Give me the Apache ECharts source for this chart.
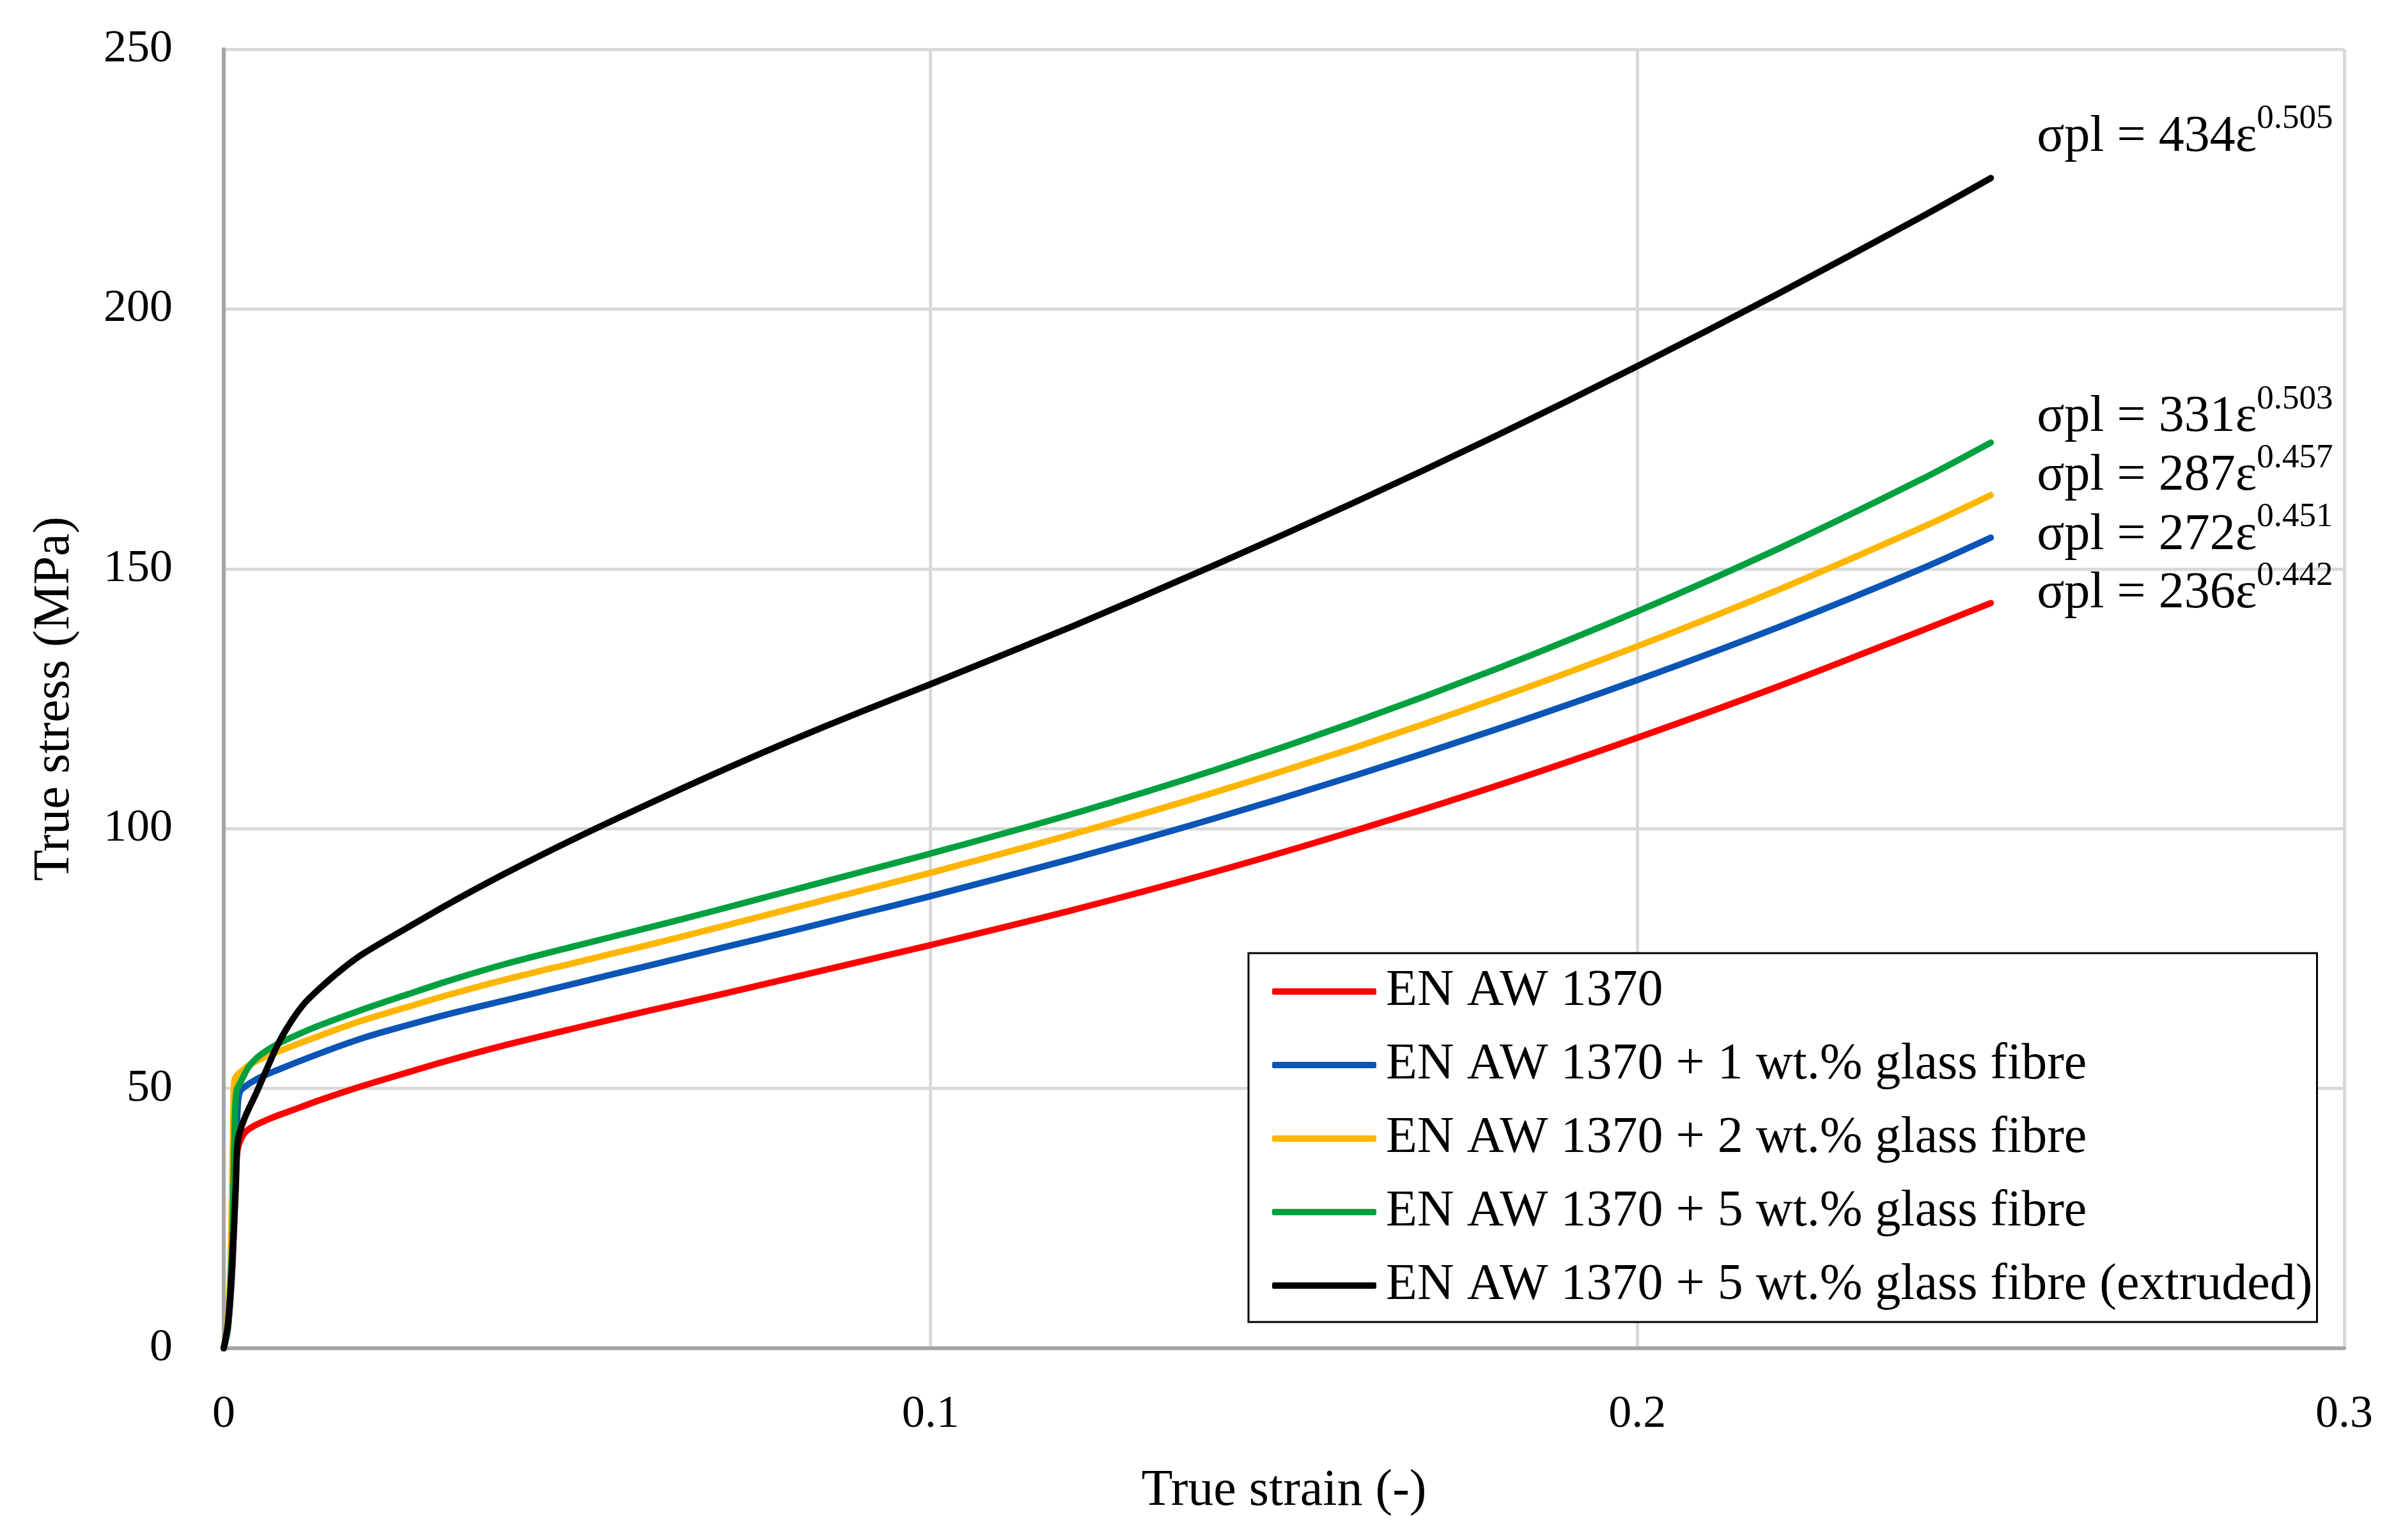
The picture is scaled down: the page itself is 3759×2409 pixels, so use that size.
<!DOCTYPE html>
<html>
<head>
<meta charset="utf-8">
<script src="https://cdn.jsdelivr.net/npm/echarts@6/dist/echarts.min.js"></script>
<style>
html,body{margin:0;padding:0;background:#fff;}
#chart{width:3759px;height:2409px;}
</style>
</head>
<body>
<div id="chart"></div>
<script>
// ---- data (true strain, true stress MPa) ----
const seriesNames = [
  'EN AW 1370',
  'EN AW 1370 + 1 wt.% glass fibre',
  'EN AW 1370 + 2 wt.% glass fibre',
  'EN AW 1370 + 5 wt.% glass fibre',
  'EN AW 1370 + 5 wt.% glass fibre (extruded)'
];
const seriesColors = ['#FF0000', '#0A55B5', '#FFB600', '#00A040', '#000000'];

const curveRed = [
  [0,0],[0.0006,4],[0.0012,15],[0.0017,32],[0.002,38.5],[0.0032,41.8],[0.0062,44],
  [0.0107,46.3],[0.0137,47.8],[0.0197,50.5],[0.0258,53],[0.0318,55.4],[0.04,58.4],
  [0.05,61.7],[0.06,64.9],[0.07,68],[0.08,71.2],[0.09,74.4],[0.1,77.6],[0.12,84.3],
  [0.14,91.6],[0.16,99.6],[0.18,108.2],[0.2,117.5],[0.22,127.4],[0.24,138],[0.25,143.4]
];
const curveBlue = [
  [0,0],[0.0006,4],[0.0012,16],[0.0017,36],[0.002,47],[0.0024,49.6],[0.0047,51.8],
  [0.0077,53.6],[0.0137,56.8],[0.0197,59.7],[0.0258,62.1],[0.0318,64.3],[0.04,67],
  [0.05,70.3],[0.06,73.6],[0.07,76.9],[0.08,80.2],[0.09,83.6],[0.1,87],[0.12,94.2],
  [0.14,101.9],[0.16,110.2],[0.18,119.1],[0.2,128.6],[0.22,138.8],[0.24,149.9],[0.25,156]
];
const curveYellow = [
  [0,0],[0.0005,4],[0.001,18],[0.0013,40],[0.0015,51.5],[0.0032,54.1],[0.0047,55.3],
  [0.0077,57.1],[0.0137,60.2],[0.0197,63.1],[0.0258,65.6],[0.0318,68],[0.04,71],
  [0.05,74.3],[0.06,77.6],[0.07,81],[0.08,84.5],[0.09,88],[0.1,91.5],[0.12,98.9],
  [0.14,106.9],[0.16,115.6],[0.18,125],[0.2,135.1],[0.22,146],[0.24,157.8],[0.25,164.2]
];
const curveGreen = [
  [0,0],[0.0006,4],[0.0012,20],[0.0015,40],[0.0018,49.4],[0.0026,51.8],[0.0035,54.1],
  [0.0047,55.9],[0.0062,57.4],[0.0077,58.6],[0.0107,60.5],[0.0137,62.2],[0.0197,65.2],
  [0.0258,68],[0.0318,70.7],[0.04,74],[0.05,77.5],[0.06,80.9],[0.07,84.4],[0.08,88],
  [0.09,91.6],[0.1,95.2],[0.12,102.8],[0.14,111.2],[0.16,120.5],[0.18,130.7],[0.2,141.8],
  [0.22,153.9],[0.24,167.1],[0.25,174.3]
];
const curveBlack = [
  [0,0],[0.0006,4.7],[0.0012,16.5],[0.0017,31],[0.002,40],[0.0029,44.1],[0.0047,49.4],
  [0.0062,54.1],[0.0077,58.6],[0.0095,62.8],[0.0113,66.2],[0.0137,69.4],[0.0167,72.9],
  [0.0197,75.9],[0.0258,80.8],[0.0318,85.5],[0.04,91.5],[0.05,98.3],[0.06,104.7],
  [0.07,110.9],[0.08,116.8],[0.09,122.4],[0.1,127.8],[0.12,138.9],[0.14,150.6],[0.16,162.8],
  [0.18,175.6],[0.2,189],[0.22,203],[0.24,217.6],[0.25,225.2]
];
const curves = [curveRed, curveBlue, curveYellow, curveGreen, curveBlack];

// fitted power-law annotations (K, n)
const annotK = ['236', '272', '287', '331', '434'];
const annotN = ['0.442', '0.451', '0.457', '0.503', '0.505'];
const annotDy = [-14, -3, -29, -39, -64];

const xTicks = [0, 0.1, 0.2, 0.3];
const yTicks = [0, 50, 100, 150, 200, 250];

const SERIF = '"Liberation Serif", "Times New Roman", serif';

const chart = echarts.init(document.getElementById('chart'), null, {renderer: 'canvas'});

const series = curves.map((c, i) => ({
  name: seriesNames[i],
  type: 'line',
  data: c,
  showSymbol: false,
  symbol: 'none',
  smooth: 0.3,
  lineStyle: {color: seriesColors[i], width: 10, cap: 'round', join: 'round'},
  itemStyle: {color: seriesColors[i]},
  z: 2 + i,
  endLabel: {
    show: true,
    distance: 0,
    offset: [72, annotDy[i]],
    formatter: '{m|σpl = ' + annotK[i] + 'ε}{s|' + annotN[i] + '}',
    rich: {
      m: {fontFamily: SERIF, fontSize: 80, lineHeight: 110, color: '#000', verticalAlign: 'middle'},
      s: {fontFamily: SERIF, fontSize: 53, lineHeight: 53, color: '#000', verticalAlign: 'top'}
    }
  }
}));

chart.setOption({
  animation: false,
  backgroundColor: '#ffffff',
  grid: {left: 350, right: 92, top: 77, bottom: 300, containLabel: false},
  xAxis: {
    type: 'value',
    min: xTicks[0], max: xTicks[xTicks.length - 1], interval: 0.1,
    name: 'True strain (-)',
    nameLocation: 'middle',
    nameGap: 184,
    nameTextStyle: {fontFamily: SERIF, fontSize: 80, color: '#000'},
    axisLine: {show: true, lineStyle: {color: '#A6A6A6', width: 6}},
    axisTick: {show: false},
    axisLabel: {
      fontFamily: SERIF, fontSize: 72, color: '#000', margin: 68,
      formatter: v => String(Math.round(v * 10) / 10)
    },
    splitLine: {show: true, lineStyle: {color: '#D9D9D9', width: 5}}
  },
  yAxis: {
    type: 'value',
    min: yTicks[0], max: yTicks[yTicks.length - 1], interval: 50,
    name: 'True stress (MPa)',
    nameLocation: 'middle',
    nameGap: 224,
    nameRotate: 90,
    nameTextStyle: {fontFamily: SERIF, fontSize: 80, color: '#000'},
    axisLine: {show: true, lineStyle: {color: '#A6A6A6', width: 6}},
    axisTick: {show: false},
    axisLabel: {fontFamily: SERIF, fontSize: 72, color: '#000', margin: 80},
    splitLine: {show: true, lineStyle: {color: '#D9D9D9', width: 5}}
  },
  legend: {
    show: true,
    orient: 'vertical',
    left: 1953,
    top: 1491,
    padding: [20, 7, 17, 37],
    itemWidth: 163,
    itemHeight: 10,
    itemGap: 35,
    icon: 'roundRect',
    backgroundColor: '#ffffff',
    borderColor: '#000000',
    borderWidth: 3,
    borderRadius: 0,
    data: seriesNames,
    textStyle: {fontFamily: SERIF, fontSize: 80, lineHeight: 80, color: '#000', padding: [0, 0, 0, 10]}
  },
  series: series
});
</script>
</body>
</html>
